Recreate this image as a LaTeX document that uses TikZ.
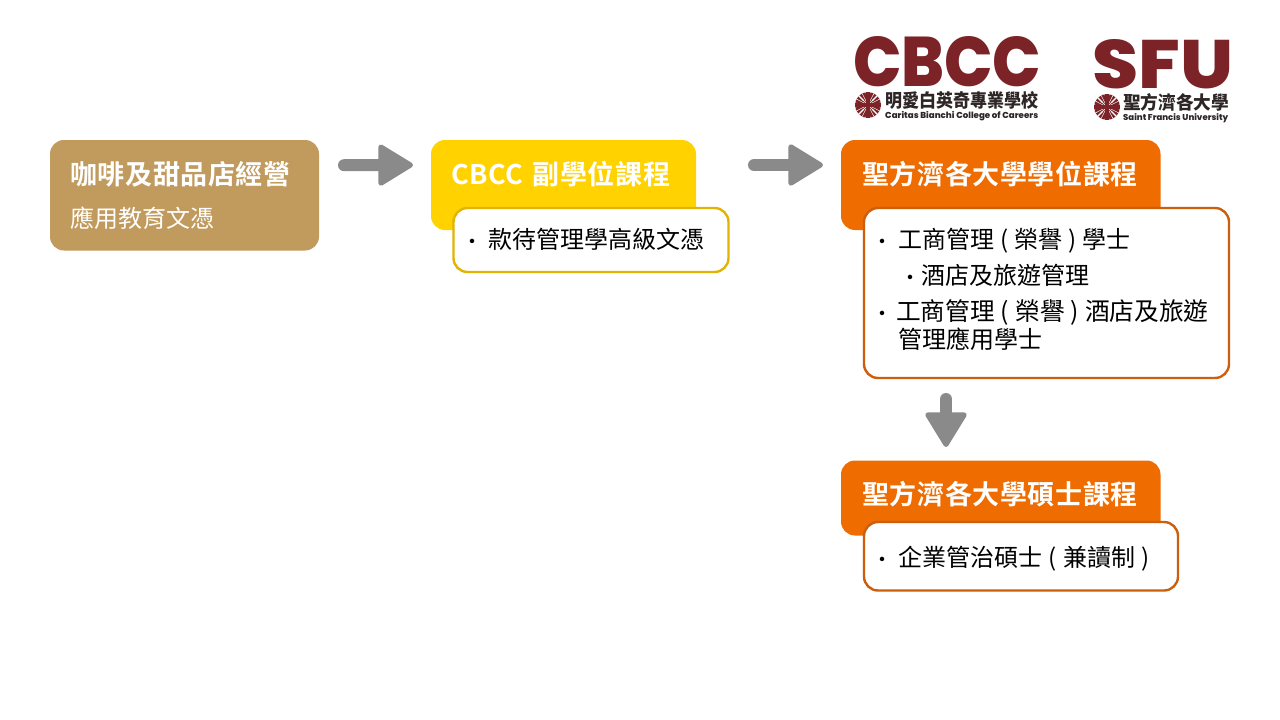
\documentclass[tikz,border=0pt]{standalone}
\usepackage{fontspec}
\usepackage{graphicx}
\usetikzlibrary{arrows.meta}
\setmainfont{Noto Sans CJK TC}
\newfontfamily\headfont[LetterSpace=2.3,BoldFont={Noto Sans CJK TC Bold}]{Noto Sans CJK TC}
\newfontfamily\logofont[BoldFont={Poppins ExtraBold}]{Poppins}
\definecolor{brownbox}{HTML}{C19A5D}
\definecolor{yellowbox}{HTML}{FFD200}
\definecolor{orangebox}{HTML}{EE6C00}
\definecolor{yellowline}{HTML}{E0B400}
\definecolor{orangeline}{HTML}{CC5F0E}
\definecolor{flowgray}{HTML}{8A8A8A}
\definecolor{logored}{HTML}{7B2327}
\definecolor{logodark}{HTML}{2E2526}
\newcommand{\bul}[1]{\makebox[#1][l]{\hspace{-1pt}\raisebox{1pt}{\fontsize{16}{16}\selectfont\bfseries ·}}}
\newcommand{\caritas}[1]{%
  \begin{scope}[shift={(#1)}]
    \fill[logored] (0,0) circle[radius=13];
    \foreach \a in {0,18,...,342} \draw[white,line width=.5pt] (\a+9:3) -- (\a+9:13.5);
    \draw[white,line width=1.2pt] (45:14) -- (45:6) (135:14) -- (135:6) (225:14) -- (225:6) (315:14) -- (315:6);
    \draw[logored,line width=3.4pt] (-13,0) -- (13,0) (0,-13) -- (0,13);
  \end{scope}}
\tikzset{
  x=1pt,y=-1pt,
  boxbase/.style={rounded corners=14pt,anchor=north west,inner sep=0pt,outer sep=0pt},
  headbox/.style={boxbase,fill=#1},
  listbox/.style={boxbase,fill=white,draw=#1,line width=2.4pt},
  headtext/.style={anchor=base west,inner sep=0pt,white,font=\headfont\bfseries\fontsize{27}{27}\selectfont},
  bodytext/.style={anchor=base west,inner sep=0pt,black,font=\fontsize{24}{24}\selectfont},
  logotext/.style={anchor=base west,inner sep=0pt,logored},
  flow/.style={draw=flowgray,line width=12pt,line cap=round,-{Triangle[length=37pt,width=44pt,line width=5pt,round,fill=flowgray]}},
}
\begin{document}
\begin{tikzpicture}
\useasboundingbox (0,0) rectangle (1280,720);
\fill[white] (0,0) rectangle (1280,720);
% boxes
\node[headbox=brownbox,minimum width=269pt,minimum height=110.5pt] (brown) at (50,140) {};
\node[headbox=yellowbox,minimum width=265pt,minimum height=90pt] (yellow) at (431,140) {};
\node[listbox=yellowline,minimum width=275pt,minimum height=64pt] (yellowlist) at (453.5,208) {};
\node[headbox=orangebox,minimum width=319.5pt,minimum height=90pt] (orange) at (841,140) {};
\node[listbox=orangeline,minimum width=365pt,minimum height=170pt] (orangelist) at (864,208) {};
\node[headbox=orangebox,minimum width=319.5pt,minimum height=75pt] (master) at (841,460.5) {};
\node[listbox=orangeline,minimum width=314pt,minimum height=68.5pt] (masterlist) at (864,522) {};
% arrows
\draw[flow,shorten <=25pt,shorten >=18pt] ([yshift=30pt]brown.east) -- ([yshift=20pt]yellow.west);
\draw[flow,shorten <=58pt,shorten >=18pt] ([yshift=20pt]yellow.east) -- ([yshift=20pt]orange.west);
\coordinate (downstart) at (946,378);
\coordinate (downend) at (946,461);
\draw[flow,shorten <=21pt,shorten >=14pt] (downstart) -- (downend);
% texts
\node[headtext] (t1) at (70,184) {咖啡及甜品店經營};
\node[bodytext,white] (t1b) at (70,227) {應用教育文憑};
\node[headtext] (t2) at (451,184) {\spaceskip=9pt CBCC 副學位課程};
\node[bodytext] (t2b) at (465,248) {\bul{23pt}款待管理學高級文憑};
\node[headtext] (t3) at (862,184) {聖方濟各大學學位課程};
\node[bodytext] (l1) at (875,248) {\spaceskip=6pt\bul{23pt}工商管理 ( 榮譽 ) 學士};
\node[bodytext] (l2) at (903,284) {\bul{18pt}酒店及旅遊管理};
\node[bodytext,font=\fontsize{24.7}{24.7}\selectfont] (l3) at (875,320) {\spaceskip=6pt\bul{21pt}工商管理 ( 榮譽 ) 酒店及旅遊};
\node[bodytext] (l4) at (898,348) {管理應用學士};
\node[headtext] (t4) at (862,504) {聖方濟各大學碩士課程};
\node[bodytext] (m1) at (875,566) {\spaceskip=6.4pt\bul{23pt}企業管治碩士 ( 兼讀制 )};
% logos
\node[logotext] (cbcc) at (853,86) {\resizebox{188pt}{50pt}{\logofont\bfseries CBCC}};
\node[logotext,logodark] (cbcczh) at (885,107) {\resizebox{153pt}{16pt}{\bfseries 明愛白英奇專業學校}};
\node[logotext,logodark] (cbccen) at (885,118) {\resizebox{153pt}{!}{\logofont\bfseries Caritas Bianchi College of Careers}};
\caritas{868,105}
\node[logotext] (sfu) at (1092,88) {\resizebox{141pt}{49pt}{\logofont\bfseries SFU}};
\node[logotext,logodark] (sfuzh) at (1123,109) {\resizebox{106pt}{16pt}{\bfseries 聖方濟各大學}};
\node[logotext,logodark] (sfuen) at (1123,120) {\resizebox{105pt}{!}{\logofont\bfseries Saint Francis University}};
\caritas{1107,107}
\end{tikzpicture}
\end{document}
